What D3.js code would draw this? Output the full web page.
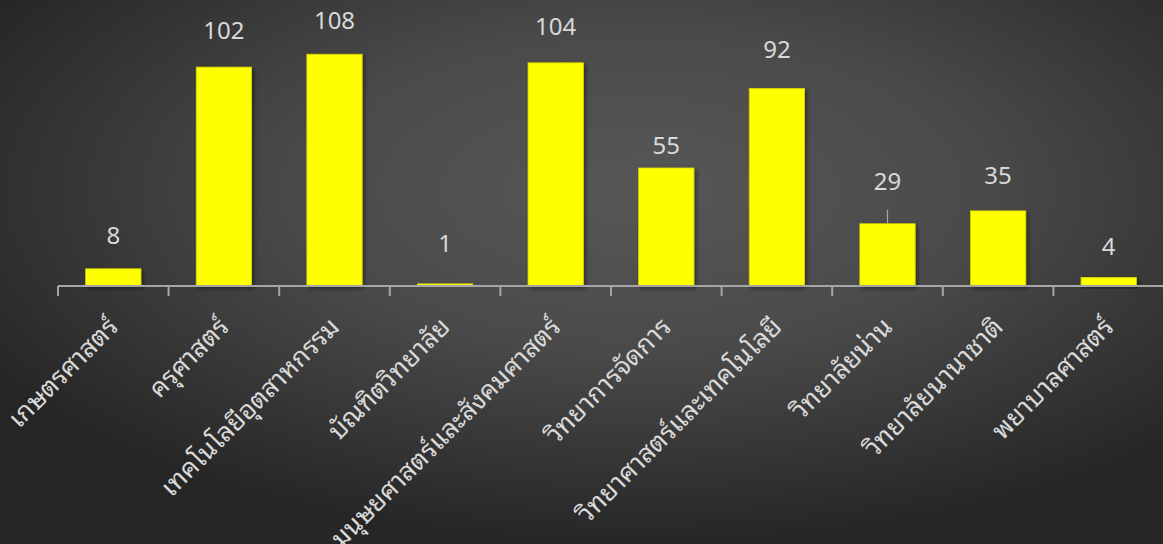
<!DOCTYPE html>
<html>
<head>
<meta charset="utf-8">
<script src="https://cdn.jsdelivr.net/npm/d3@7"></script>
<style>
  html, body { margin: 0; padding: 0; background: #3a3a3a; }
  svg { display: block; }
</style>
</head>
<body>
<svg id="chart" width="1163" height="544"></svg>
<script>
const categories = [
  "เกษตรศาสตร์", "ครุศาสตร์", "เทคโนโลยีอุตสาหกรรม", "บัณฑิตวิทยาลัย",
  "มนุษยศาสตร์และสังคมศาสตร์", "วิทยาการจัดการ", "วิทยาศาสตร์และเทคโนโลยี",
  "วิทยาลัยน่าน", "วิทยาลัยนานาชาติ", "พยาบาลศาสตร์"
];
const values = [8, 102, 108, 1, 104, 55, 92, 29, 35, 4];
const yDomainMax = 120;

// layout: manual distance (px) of each data label baseline above its bar top
const labelGap = [25, 28, 25, 32, 28, 14, 31, 34, 27, 22];

const W = 1163, H = 544;
const svg = d3.select("#chart");
const defs = svg.append("defs");

const grad = defs.append("radialGradient")
  .attr("id", "bg").attr("cx", "55%").attr("cy", "35%").attr("r", "65%")
  .attr("gradientUnits", "objectBoundingBox");
grad.append("stop").attr("offset", "0%").attr("stop-color", "#575757");
grad.append("stop").attr("offset", "45%").attr("stop-color", "#4a4a4a");
grad.append("stop").attr("offset", "100%").attr("stop-color", "#262626");

const shadow = defs.append("filter").attr("id", "shadow")
  .attr("x", "-20%").attr("y", "-20%").attr("width", "150%").attr("height", "150%");
shadow.append("feDropShadow").attr("dx", 2).attr("dy", 2).attr("stdDeviation", 2)
  .attr("flood-color", "#000").attr("flood-opacity", 0.45);

svg.append("rect").attr("width", W).attr("height", H).attr("fill", "url(#bg)");

const x = d3.scaleBand().domain(categories).range([58, 1164])
  .paddingInner(0.5).paddingOuter(0.25);
const y = d3.scaleLinear().domain([0, yDomainMax]).range([286, 28.5]);

const rows = values.map((v, i) => ({ cat: categories[i], value: v, gap: labelGap[i] }));

// bars
svg.append("g").selectAll("rect").data(rows).join("rect")
  .attr("x", d => x(d.cat))
  .attr("y", d => y(d.value))
  .attr("width", x.bandwidth())
  .attr("height", d => y(0) - y(d.value))
  .attr("fill", "#ffff00")
  .attr("stroke", "#d8d800").attr("stroke-width", 0.8)
  .attr("filter", "url(#shadow)");

// axis
const step = x.step();
const boundaries = d3.range(categories.length + 1).map(i => x(categories[0]) - x.bandwidth() * 0.5 + i * step);
const axis = svg.append("g");
axis.append("line")
  .attr("x1", 58).attr("x2", 1164).attr("y1", y(0)).attr("y2", y(0))
  .attr("stroke", "#a6a6a6").attr("stroke-width", 2);
axis.selectAll("line.tick").data(boundaries).join("line").attr("class", "tick")
  .attr("x1", d => d).attr("x2", d => d)
  .attr("y1", y(0)).attr("y2", y(0) + 10)
  .attr("stroke", "#a6a6a6").attr("stroke-width", 2);

// category labels
svg.append("g").selectAll("text").data(categories).join("text")
  .attr("transform", d => `translate(${x(d) + x.bandwidth() / 2 + 0},${y(0) + 36}) rotate(-45)`)
  .attr("text-anchor", "end")
  .attr("dy", "0.35em")
  .attr("fill", "#d9d9d9")
  .style("font-family", "'Noto Sans Thai Looped', 'Noto Serif Thai', 'Tlwg Typist', 'Loma', 'Noto Sans', 'Noto Sans Thai', sans-serif")
  .style("font-size", "26px")
  .text(d => d);

// leader lines where label sits far from bar
svg.append("g").selectAll("line").data(rows.filter(d => d.gap > 33)).join("line")
  .attr("x1", d => x(d.cat) + x.bandwidth() / 2)
  .attr("x2", d => x(d.cat) + x.bandwidth() / 2)
  .attr("y1", d => y(d.value) - d.gap + 20)
  .attr("y2", d => y(d.value))
  .attr("stroke", "#a6a6a6").attr("stroke-width", 1.2);

// value labels
svg.append("g").selectAll("text").data(rows).join("text")
  .attr("x", d => x(d.cat) + x.bandwidth() / 2)
  .attr("y", d => y(d.value) - d.gap)
  .attr("text-anchor", "middle")
  .attr("fill", "#d9d9d9")
  .style("font-family", "'Noto Sans', sans-serif")
  .style("font-size", "24px")
  .text(d => d.value);
</script>
</body>
</html>
